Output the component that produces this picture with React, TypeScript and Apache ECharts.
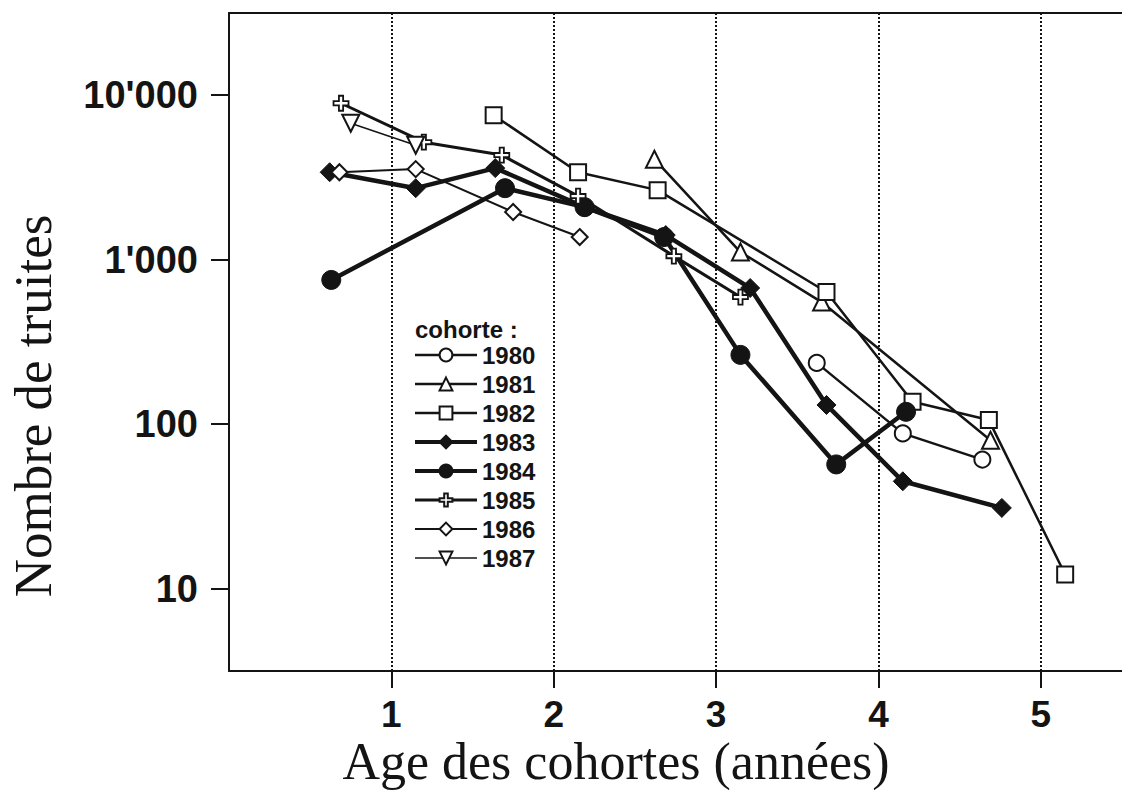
import React, { useEffect, useRef } from "react";
import * as echarts from "echarts";

// ---- data (age of cohort in years, number of trout) ----
const ages1980 = [3.62, 4.15, 4.64];
const counts1980 = [236, 88, 61];

const ages1981 = [2.62, 3.15, 3.65, 4.69];
const counts1981 = [4085, 1114, 553, 80];

const ages1982 = [1.63, 2.15, 2.64, 3.68, 4.21, 4.68, 5.15];
const counts1982 = [7565, 3404, 2649, 637, 137, 106, 12.2];

const ages1983 = [0.62, 1.15, 1.64, 2.19, 2.69, 3.21, 3.68, 4.15, 4.76];
const counts1983 = [3404, 2723, 3607, 2088, 1413, 673, 131, 45, 31];

const ages1984 = [0.63, 1.7, 2.19, 2.68, 3.15, 3.74, 4.17];
const counts1984 = [754, 2723, 2088, 1374, 264, 57, 119];

const ages1985 = [0.69, 1.2, 1.68, 2.15, 2.74, 3.15];
const counts1985 = [8940, 5185, 4328, 2438, 1052, 593];

const ages1986 = [0.68, 1.15, 1.75, 2.16];
const counts1986 = [3404, 3557, 1951, 1374];

const ages1987 = [0.75, 1.15];
const counts1987 = [6762, 4966];

const cohortNames = ["1980", "1981", "1982", "1983", "1984", "1985", "1986", "1987"];
const xTickValues = [1, 2, 3, 4, 5];
const yTickValues = [10, 100, 1000, 10000];
const yTickLabels = ["10", "100", "1'000", "10'000"];

const INK = "#141414";
const SANS = "'Liberation Sans', Arial, Helvetica, sans-serif";
const SERIF = "'Liberation Serif', 'Times New Roman', serif";

const CROSS =
  "path://M3.6,0 L6.4,0 L6.4,3.6 L10,3.6 L10,6.4 L6.4,6.4 L6.4,10 L3.6,10 L3.6,6.4 L0,6.4 L0,3.6 L3.6,3.6 Z";

const LINE_WIDTHS: Record<string, number> = {
  "1980": 2.5,
  "1981": 2.5,
  "1982": 2.5,
  "1983": 4.5,
  "1984": 4.5,
  "1985": 3,
  "1986": 2,
  "1987": 1.5,
};

function makeSeries(
  name: string,
  ages: number[],
  counts: number[],
  symbol: string,
  size: number,
  kind: "filled" | "empty" | "path",
  rotate = 0
) {
  const itemStyle =
    kind === "filled"
      ? { color: INK, borderColor: INK, borderWidth: 1 }
      : kind === "path"
      ? { color: "#fff", borderColor: INK, borderWidth: 1.8 }
      : { color: INK, borderColor: INK, borderWidth: 2 };
  return {
    type: "line",
    name,
    data: ages.map((a, i) => [a, counts[i]]),
    symbol,
    symbolSize: size,
    symbolRotate: rotate,
    showSymbol: true,
    showAllSymbol: true,
    lineStyle: { color: INK, width: LINE_WIDTHS[name] },
    itemStyle,
    emphasis: { disabled: true },
    silent: true,
  };
}

export default function App() {
  const ref = useRef<HTMLDivElement>(null);

  useEffect(() => {
    document.body.style.margin = "0";
    if (!ref.current) return;
    const chart = echarts.init(ref.current, undefined, { renderer: "svg" });

    const series = [
      makeSeries("1980", ages1980, counts1980, "emptyCircle", 16, "empty"),
      makeSeries("1981", ages1981, counts1981, "emptyTriangle", 17, "empty"),
      makeSeries("1982", ages1982, counts1982, "emptyRect", 16, "empty"),
      makeSeries("1983", ages1983, counts1983, "diamond", 19, "filled"),
      makeSeries("1984", ages1984, counts1984, "circle", 19, "filled"),
      makeSeries("1985", ages1985, counts1985, CROSS, 15, "path"),
      makeSeries("1986", ages1986, counts1986, "emptyDiamond", 16, "empty"),
      makeSeries("1987", ages1987, counts1987, "emptyTriangle", 17, "empty", 180),
    ];

    chart.setOption({
      animation: false,
      backgroundColor: "#ffffff",
      grid: { left: 229, top: 13, right: -12, bottom: 121, containLabel: false },
      xAxis: [
        {
          type: "value",
          position: "bottom",
          min: 0,
          max: 5.5,
          interval: 1,
          axisLine: { show: true, onZero: false, lineStyle: { color: INK, width: 2 } },
          axisTick: {
            show: true,
            length: 17,
            customValues: xTickValues,
            lineStyle: { color: INK, width: 2 },
          },
          axisLabel: {
            customValues: xTickValues,
            margin: 25,
            fontSize: 37,
            fontWeight: "bold",
            fontFamily: SANS,
            color: INK,
          },
          splitLine: {
            show: true,
            lineStyle: { type: [2, 2], color: INK, width: 2 },
          },
        },
        {
          type: "value",
          position: "top",
          min: 0,
          max: 5.5,
          interval: 1,
          axisLine: { show: true, onZero: false, lineStyle: { color: INK, width: 2 } },
          axisTick: { show: false },
          axisLabel: { show: false },
          splitLine: { show: false },
        },
      ],
      yAxis: {
        type: "log",
        logBase: 10,
        min: Math.pow(10, 0.5),
        max: Math.pow(10, 4.5),
        axisLine: { show: true, onZero: false, lineStyle: { color: INK, width: 2 } },
        axisTick: {
          show: true,
          length: 18,
          customValues: yTickValues,
          lineStyle: { color: INK, width: 2 },
        },
        axisLabel: {
          customValues: yTickValues,
          margin: 31,
          fontSize: 38,
          fontWeight: "bold",
          fontFamily: SANS,
          color: INK,
          formatter: (v: number) => {
            const e = Math.round(Math.log10(v));
            return yTickLabels[e - 1] ?? "";
          },
        },
        splitLine: { show: false },
      },
      legend: {
        show: true,
        orient: "vertical",
        left: 413,
        top: 343,
        padding: 0,
        itemWidth: 62,
        itemHeight: 16,
        itemGap: 5,
        selectedMode: false,
        data: cohortNames.map((n) => ({
          name: n,
          lineStyle: { color: INK, width: Math.min(LINE_WIDTHS[n], 4) },
        })),
        textStyle: {
          fontSize: 24,
          lineHeight: 24,
          fontWeight: "bold",
          fontFamily: SANS,
          color: INK,
        },
      },
      graphic: [
        {
          type: "text",
          left: 415,
          top: 317,
          silent: true,
          style: {
            text: "cohorte :",
            fontSize: 24,
            fontWeight: "bold",
            fontFamily: SANS,
            fill: INK,
          },
        },
        {
          type: "text",
          x: 33,
          y: 406,
          rotation: Math.PI / 2,
          silent: true,
          style: {
            text: "Nombre de truites",
            fontSize: 53,
            fontFamily: SERIF,
            fill: INK,
            align: "center",
            verticalAlign: "middle",
          },
        },
        {
          type: "text",
          x: 616,
          y: 761,
          silent: true,
          style: {
            text: "Age des cohortes (années)",
            fontSize: 52,
            fontFamily: SERIF,
            fill: INK,
            align: "center",
            verticalAlign: "middle",
          },
        },
      ],
      series,
    });

    return () => chart.dispose();
  }, []);

  return <div ref={ref} style={{ width: 1122, height: 792 }} />;
}
